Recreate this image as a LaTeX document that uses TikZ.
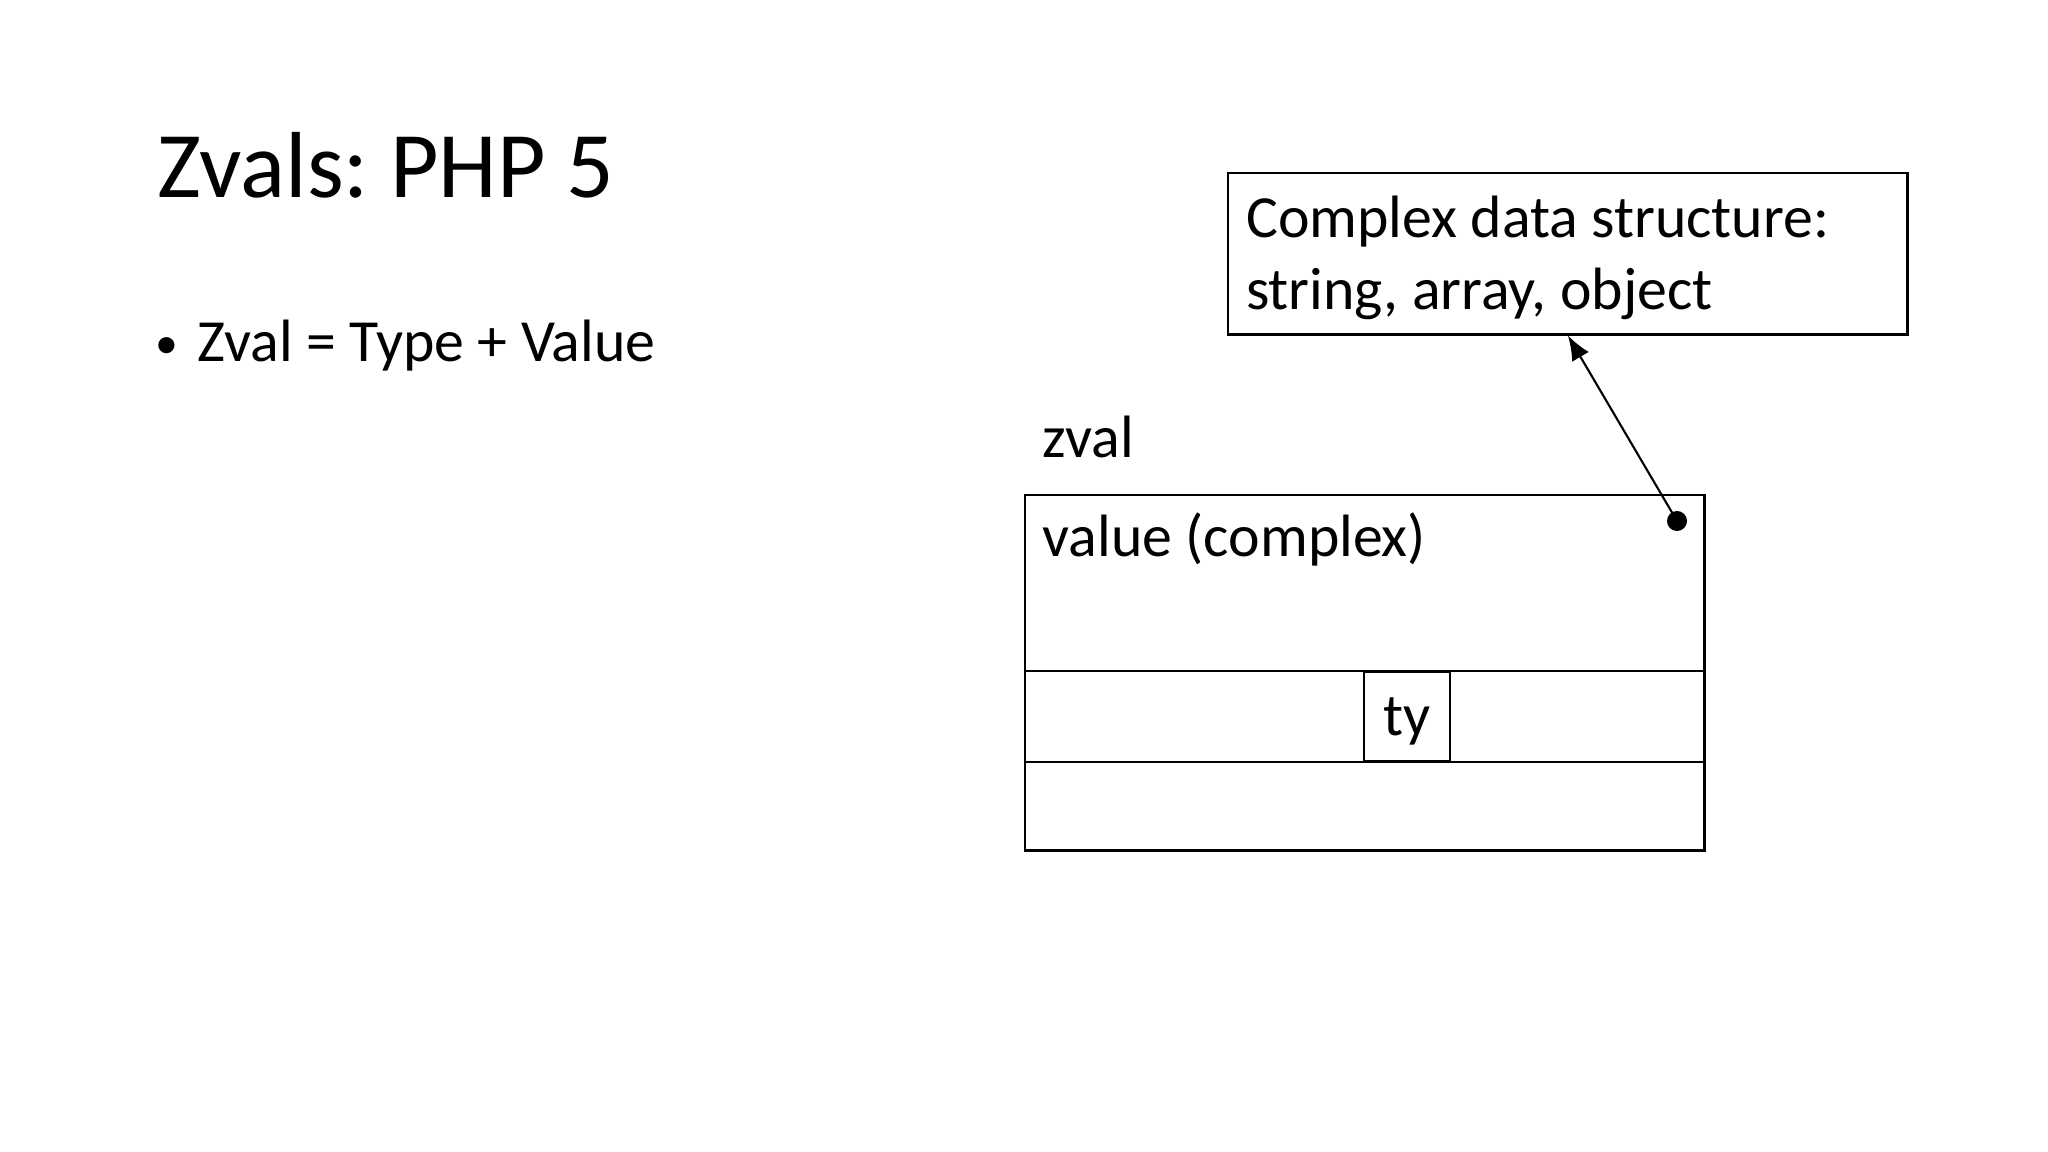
\documentclass[tikz,border=0pt]{standalone}
\usepackage{fontspec}
\setmainfont{Carlito}
\usepackage{tikz}
\usetikzlibrary{arrows.meta, positioning}
\frenchspacing
\tikzstyle{arrow} = [line width=0.6pt, -{Latex[length=7pt, width=5.5pt]}]
\tikzstyle{cell}  = [rectangle, draw, line width=0.7pt, inner sep=0pt]
\tikzstyle{body}  = [inner sep=0pt, anchor=base west, font=\fontsize{17}{20.5}\selectfont]

\begin{document}
\begin{tikzpicture}[x=0.01cm, y=-0.01cm]
    \useasboundingbox (0,0) rectangle (2048,1152);

    \node (title)  at (157,198)  [body, font=\fontsize{26.7}{32}\selectfont] {Zvals: PHP 5};
    \node (bullet) at (167,359)  [body, anchor=base, font=\fontsize{13}{15}\selectfont] {•};
    \node (point)  at (197,362)  [body] {Zval = Type + Value};

    \node (cds)    at (1227,172) [cell, anchor=north west, minimum width=6.79cm, minimum height=1.61cm,
                                  inner xsep=0.18cm, text width=6.43cm, align=flush left,
                                  font=\fontsize{17}{20.5}\selectfont]
                                 {\rule{0pt}{0.5cm}Complex data structure:\\string, array, object};

    \node (zlabel) at (1042,458) [body] {zval};
    \node (zval)   at (1024,494) [cell, anchor=north west, minimum width=6.79cm, minimum height=3.55cm] {};
    \node (vlabel) at (1042,557) [body] {value (complex)};
    \node (ty)     at (1407,716.5) [cell, minimum width=0.86cm, minimum height=0.89cm, text depth=0pt,
                                    font=\fontsize{17}{20.5}\selectfont] {ty};
    \draw [line width=0.7pt] (zval.west |- ty.north) -- (zval.east |- ty.north);
    \draw [line width=0.7pt] (zval.west |- ty.south) -- (zval.east |- ty.south);

    \node (ptr) at (1677,521) [circle, fill, inner sep=0pt, minimum size=0.2cm] {};
    \draw [arrow] (ptr.center) -- (cds.south);
\end{tikzpicture}
\end{document}
